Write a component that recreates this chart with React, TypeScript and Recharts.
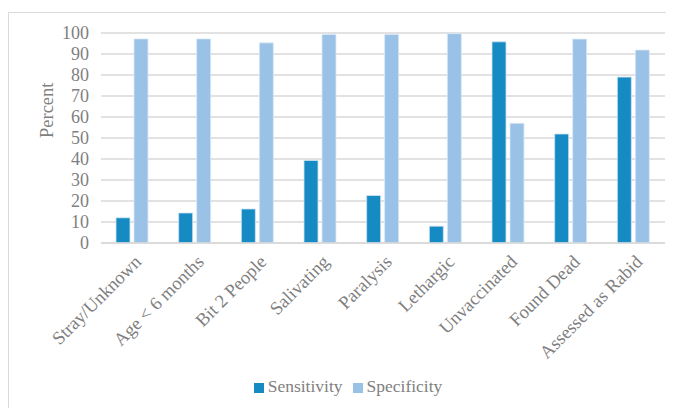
import { Bar, BarChart, CartesianGrid, Legend, XAxis, YAxis } from "recharts";

const categories = [
  "Stray/Unknown",
  "Age < 6 months",
  "Bit 2 People",
  "Salivating",
  "Paralysis",
  "Lethargic",
  "Unvaccinated",
  "Found Dead",
  "Assessed as Rabid",
];
const sensitivity = [12, 14.3, 16.2, 39.3, 22.6, 8, 95.8, 51.9, 79];
const specificity = [97.2, 97.2, 95.3, 99.3, 99.3, 99.7, 57, 97.1, 91.9];
const yTicks = [0, 10, 20, 30, 40, 50, 60, 70, 80, 90, 100];

const data = categories.map((name, i) => ({
  name,
  Sensitivity: sensitivity[i],
  Specificity: specificity[i],
}));

const font = "'Liberation Serif', 'Times New Roman', serif";
const textColor = "#7f7f7f";

function XTick(props: any) {
  const { x, y, payload } = props;
  return (
    <g transform={`translate(${x + 10},${y + 12})`}>
      <text
        transform="rotate(-45)"
        textAnchor="end"
        fill={textColor}
        fontSize={18.5}
        fontFamily={font}
      >
        {payload.value}
      </text>
    </g>
  );
}

function YTick(props: any) {
  const { x, y, payload } = props;
  return (
    <text
      x={x - 4}
      y={y + 6}
      textAnchor="end"
      fill={textColor}
      fontSize={18}
      fontFamily={font}
    >
      {payload.value}
    </text>
  );
}

export default function App() {
  return (
    <div
      style={{
        marginTop: 4,
        width: 666,
        height: 400,
        borderTop: "1px solid #d9d9d9",
        borderLeft: "1px solid #d9d9d9",
        boxSizing: "border-box",
        fontFamily: font,
      }}
    >
      <BarChart
        width={664}
        height={396}
        data={data}
        margin={{ top: 20, right: 8, bottom: 12, left: 32 }}
        barSize={14}
        barGap={4}
      >
        <CartesianGrid vertical={false} stroke="#d9d9d9" strokeWidth={1.5} />
        <XAxis
          dataKey="name"
          interval={0}
          tick={<XTick />}
          tickLine={false}
          axisLine={{ stroke: "#d9d9d9", strokeWidth: 1.5 }}
          height={133}
        />
        <YAxis
          domain={[0, 100]}
          ticks={yTicks}
          interval={0}
          width={60}
          tickLine={false}
          axisLine={false}
          tick={<YTick />}
          label={{
            value: "Percent",
            angle: -90,
            position: "insideLeft",
            offset: 5,
            fill: textColor,
            fontSize: 18.5,
            fontFamily: font,
          }}
        />
        <Legend
          verticalAlign="bottom"
          iconType="square"
          iconSize={10}
          wrapperStyle={{ fontSize: 17.5, fontFamily: font, color: textColor }}
          formatter={(value) => (
            <span style={{ color: textColor, fontFamily: font, fontSize: 17.5 }}>{value}</span>
          )}
        />
        <Bar
          dataKey="Sensitivity"
          fill="#168ac3"
          stroke="#cfe3f2"
          strokeWidth={0.8}
          isAnimationActive={false}
        />
        <Bar
          dataKey="Specificity"
          fill="#9ac2e6"
          stroke="#dbeaf6"
          strokeWidth={0.8}
          isAnimationActive={false}
        />
      </BarChart>
    </div>
  );
}
